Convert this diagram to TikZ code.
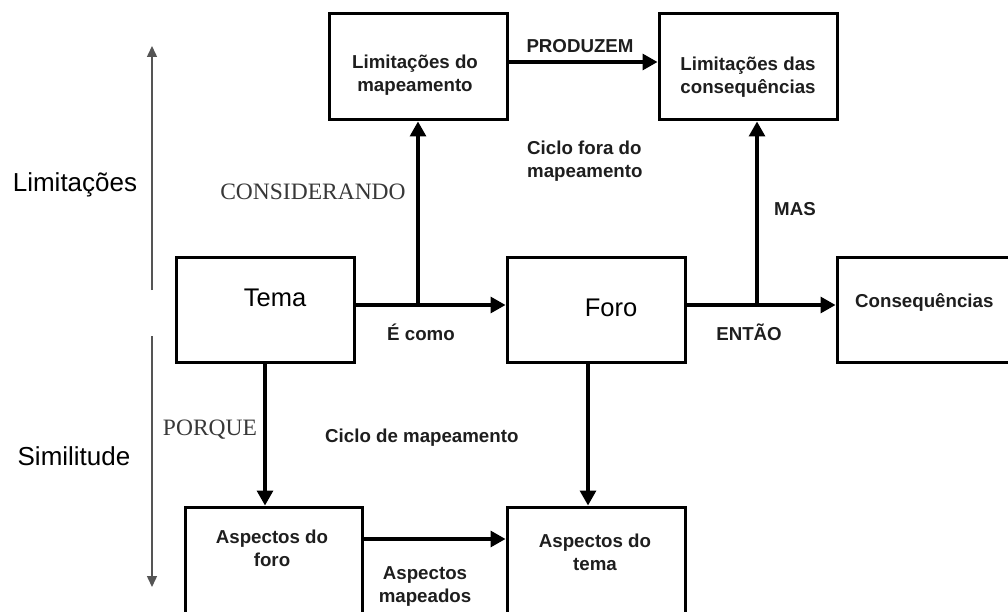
\documentclass[tikz,border=0pt]{standalone}
\usepackage{fontspec}
\setmainfont{Liberation Sans}
\newfontfamily\timesf{Liberation Serif}
\usetikzlibrary{arrows.meta}
\definecolor{txt}{HTML}{1E1E1E}
\definecolor{serifgray}{HTML}{383838}
\definecolor{thingray}{HTML}{555555}
\begin{document}
\begin{tikzpicture}[x=1pt,y=-1pt,
  box/.style={draw=black,line width=3pt,inner sep=0pt,minimum width=178pt,minimum height=106pt},
  arr/.style={draw=black,line width=3.2pt,-{Triangle[length=15pt,width=16pt]}},
  thinarr/.style={draw=thingray,line width=1.5pt,-{Triangle[length=11pt,width=10pt]}},
  bl/.style={font=\bfseries\fontsize{18.7}{23}\selectfont,text=txt,inner sep=0pt,align=center,anchor=base},
  bll/.style={font=\bfseries\fontsize{18.7}{23}\selectfont,text=txt,inner sep=0pt,align=left,anchor=base west},
  big/.style={font=\fontsize{25.5}{30}\selectfont,text=black,inner sep=0pt,anchor=base},
  ser/.style={font=\timesf\fontsize{23.5}{28}\selectfont,text=serifgray,inner sep=0pt,anchor=base}]
\useasboundingbox (0,0) rectangle (1008,612);
\clip (0,0) rectangle (1008,612);
\fill[white] (0,0) rectangle (1008,612);

% boxes
\node[box] (limmap) at (418,67) {};
\node[box] (limcons) at (748,67) {};
\node[box,minimum height=105pt] (tema) at (265,309.5) {};
\node[box,minimum height=105pt] (foro) at (596,309.5) {};
\node[box,minimum height=105pt,minimum width=200pt] (cons) at (937,309.5) {};
\node[box,minimum width=177pt,minimum height=113pt] (aspforo) at (273.5,563.5) {};
\node[box,minimum height=113pt] (asptema) at (596,563.5) {};

% box texts (base = last line baseline)
\node[bl] (tLimMap) at (415,92) {Limitações do\\mapeamento};
\node[bl] (tLimCons) at (748,94) {Limitações das\\consequências};
\node[big] (tTema) at (275,306) {Tema};
\node[big] (tForo) at (611,316) {Foro};
\node[bl,anchor=base west] (tCons) at (855,307) {Consequências};
\node[bl] (tAspForo) at (272,566) {Aspectos do\\foro};
\node[bl] (tAspTema) at (595,570) {Aspectos do\\tema};

% connectors
\coordinate (y305) at (0,305);
\coordinate (y62) at (0,62);
\coordinate (y539) at (0,539);
\coordinate (j1) at (418,305);
\coordinate (j2) at (757,305);
\coordinate (j3) at (588,362);
\draw[arr] (tema.east |- y305) -- (foro.west |- y305);
\draw[arr] (j1) -- (limmap.south);
\draw[arr] (foro.east |- y305) -- (cons.west |- y305);
\draw[arr] (j2) -- (j2 |- limcons.south);
\draw[arr] (limmap.east |- y62) -- (limcons.west |- y62);
\draw[arr] (tema.south) -- (tema.south |- aspforo.north);
\draw[arr] (j3) -- (j3 |- asptema.north);
\draw[arr] (aspforo.east |- y539) -- (asptema.west |- y539);

% side arrows
\coordinate (s1) at (152,290);
\coordinate (s2) at (152,46);
\coordinate (s3) at (152,336);
\coordinate (s4) at (152,587);
\draw[thinarr] (s1) -- (s2);
\draw[thinarr] (s3) -- (s4);

% labels
\node[big,font=\fontsize{26}{30}\selectfont] (lLim) at (75,192) {Limitações};
\node[big,font=\fontsize{26}{30}\selectfont] (lSim) at (74,465) {Similitude};
\node[ser] (lCons) at (313,200) {CONSIDERANDO};
\node[ser] (lPorq) at (210,435) {PORQUE};
\node[bl] (lEcomo) at (421,340) {É como};
\node[bl] (lEntao) at (749,340) {ENTÃO};
\node[bl] (lProd) at (580,53) {PRODUZEM};
\node[bl] (lMas) at (795,216) {MAS};
\node[bll] (lCicloFora) at (527,178) {Ciclo fora do\\mapeamento};
\node[bll] (lCicloMap) at (325,442) {Ciclo de mapeamento};
\node[bl] (lAspMap) at (425,602) {Aspectos\\mapeados};
\end{tikzpicture}
\end{document}
